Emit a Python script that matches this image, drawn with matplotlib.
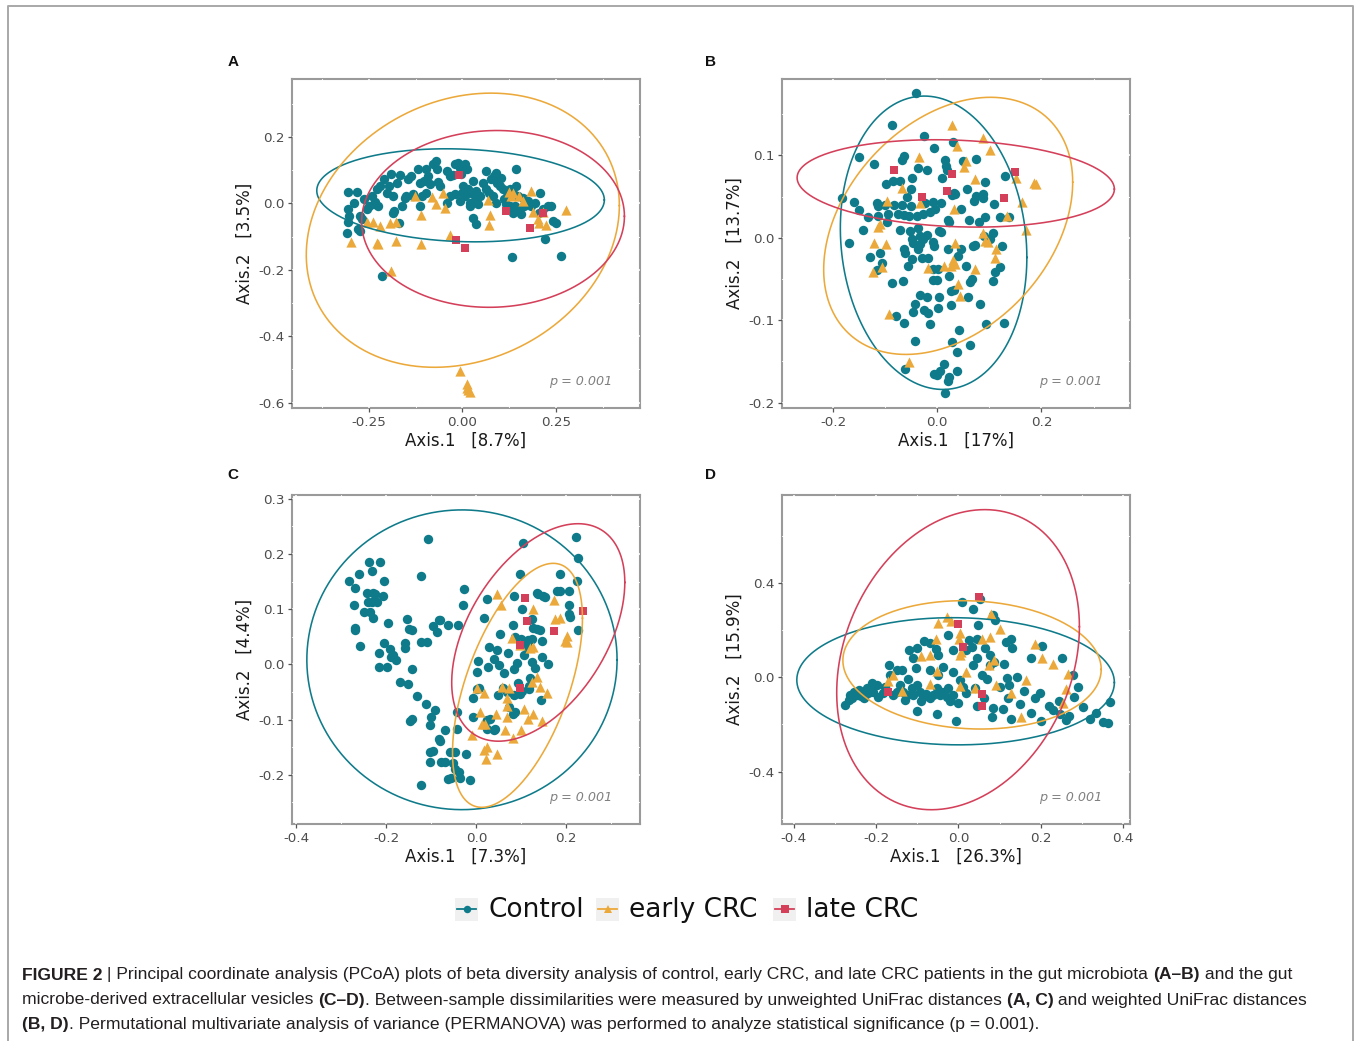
import numpy as np
import matplotlib
matplotlib.use("Agg")
import matplotlib.pyplot as plt
from matplotlib.lines import Line2D
from matplotlib.patches import Rectangle

# ---------------- data ----------------
groups = ["Control", "early CRC", "late CRC"]
colors = ["#0F7B8A", "#ECA93B", "#D4405A"]
markers = ["o", "^", "s"]

panel_letters = ["A", "B", "C", "D"]
x_titles = ["Axis.1   [8.7%]", "Axis.1   [17%]", "Axis.1   [7.3%]", "Axis.1   [26.3%]"]
y_titles = ["Axis.2   [3.5%]", "Axis.2   [13.7%]", "Axis.2   [4.4%]", "Axis.2   [15.9%]"]
p_label = "p = 0.001"

# Panel A
a_ctrl_x = [-0.304,-0.280,-0.289,-0.306,-0.301,-0.304,-0.308,-0.277,-0.274,-0.262,
            -0.250,-0.242,-0.233,-0.228,-0.219,-0.209,-0.202,-0.195,-0.190,-0.184,
            -0.182,-0.175,-0.166,-0.168,-0.153,-0.144,-0.138,-0.131,-0.118,-0.113,
            -0.109,-0.103,-0.096,-0.091,-0.087,-0.078,-0.071,-0.069,-0.065,-0.060,
            -0.042,-0.034,-0.025,-0.020,-0.012,-0.007,-0.003,0.006,0.011,0.002,
            0.000,0.006,0.015,0.019,0.028,0.033,0.037,0.046,0.055,0.064,
            0.064,0.071,0.077,0.083,0.089,0.092,0.099,0.104,0.108,0.112,
            0.115,0.119,0.126,0.135,0.142,0.143,0.148,0.152,0.157,0.163,
            0.168,0.174,0.183,0.192,0.204,0.207,0.214,0.227,0.236,0.241,
            0.250,0.219,0.037,0.028,0.042,-0.020,-0.034,-0.042,-0.096,-0.113,
            -0.131,-0.149,-0.162,-0.184,-0.224,-0.235,-0.255,-0.267,-0.274,0.133,
            0.263,-0.215,0.019,0.081,0.090,-0.007,0.028,0.126,0.135,0.161,
            0.139]
a_ctrl_y = [0.034,0.034,0.000,-0.016,-0.038,-0.056,-0.090,-0.078,-0.038,0.014,
            -0.008,0.022,0.004,0.042,0.052,0.072,0.032,0.052,0.087,0.022,
            -0.023,0.062,0.084,-0.058,0.017,0.074,0.082,0.027,0.102,0.062,
            0.022,0.067,0.102,0.082,0.057,0.117,0.127,0.102,0.064,0.052,
            0.097,0.082,0.084,0.117,0.122,0.107,0.087,0.117,0.102,0.052,
            0.032,0.022,0.042,0.002,0.027,0.007,0.037,0.022,0.062,0.097,
            0.042,0.032,0.072,0.082,0.090,0.060,0.052,0.077,0.042,0.012,
            -0.003,0.022,0.042,0.032,0.102,0.052,0.022,-0.018,-0.033,-0.008,
            -0.003,0.007,-0.008,0.002,-0.028,0.032,-0.018,-0.008,-0.008,-0.053,
            -0.058,-0.106,-0.063,-0.043,-0.003,0.027,0.022,0.002,0.032,-0.008,
            0.022,0.022,-0.008,-0.028,-0.008,-0.003,-0.016,-0.048,-0.083,-0.163,
            -0.158,-0.218,-0.008,0.022,0.002,0.007,0.067,-0.008,-0.028,0.017,
            -0.008]
a_early_x = [-0.296,-0.255,-0.237,-0.228,-0.226,-0.219,-0.193,-0.177,-0.177,-0.191,
             -0.127,-0.110,-0.110,-0.081,-0.071,-0.051,-0.046,-0.034,-0.007,0.011,
             0.013,0.019,0.068,0.073,0.071,0.124,0.130,0.135,0.152,0.161,
             0.183,0.188,0.201,0.205,0.214,0.223,0.276,0.015]
a_early_y = [-0.116,-0.056,-0.056,-0.118,-0.123,-0.068,-0.058,-0.056,-0.113,-0.203,
             0.022,-0.035,-0.123,0.019,-0.003,0.030,-0.013,-0.094,-0.506,-0.543,
             -0.556,-0.568,0.010,-0.035,-0.065,0.034,0.022,0.032,0.022,0.007,
             0.037,-0.025,-0.048,-0.060,-0.025,-0.066,-0.021,-0.563]
a_late_x = [-0.009,-0.016,0.007,0.115,0.179,0.214]
a_late_y = [0.084,-0.110,-0.134,-0.023,-0.075,-0.028]

# Panel B
b_ctrl_x = [-0.040,-0.087,-0.026,0.031,-0.006,-0.151,-0.064,-0.067,-0.121,-0.036,
            -0.020,0.015,0.017,0.019,0.050,0.075,0.131,0.010,-0.048,-0.084,
            -0.071,-0.098,0.091,-0.051,0.058,0.034,0.028,0.074,0.088,0.088,
            -0.183,-0.059,-0.160,-0.151,-0.116,-0.113,-0.100,-0.083,-0.068,-0.051,
            -0.024,-0.008,0.008,0.070,0.108,-0.132,-0.113,-0.094,-0.075,-0.064,
            -0.054,-0.038,-0.028,-0.014,-0.004,0.045,0.021,0.032,0.061,0.080,
            0.091,0.120,0.138,-0.142,-0.169,-0.052,-0.036,0.004,0.023,-0.049,
            -0.033,-0.020,-0.033,-0.008,-0.036,-0.046,-0.028,-0.006,0.107,0.101,
            0.072,0.045,0.124,-0.064,-0.129,-0.110,-0.107,-0.115,-0.062,-0.056,
            -0.049,-0.030,-0.017,-0.065,-0.087,-0.008,0.002,0.023,0.040,0.056,
            0.066,0.063,0.107,0.110,0.120,-0.008,0.000,0.027,0.032,-0.033,
            -0.020,0.004,0.059,-0.043,-0.046,-0.026,-0.017,0.001,0.027,0.082,
            -0.079,-0.064,-0.014,0.094,0.128,0.041,-0.043,0.029,0.063,0.038,
            -0.062,0.013,-0.006,0.000,0.005,0.023,0.037,0.021,0.015,0.069,
            0.089,0.008,0.021,-0.071,-0.097]
b_ctrl_y = [0.176,0.137,0.123,0.116,0.109,0.098,0.099,0.095,0.089,0.085,
            0.082,0.095,0.087,0.082,0.093,0.096,0.075,0.073,0.072,0.069,
            0.069,0.065,0.068,0.059,0.059,0.053,0.052,0.051,0.053,0.048,
            0.048,0.049,0.044,0.034,0.042,0.038,0.040,0.040,0.040,0.038,
            0.042,0.043,0.042,0.045,0.041,0.025,0.027,0.029,0.029,0.028,
            0.027,0.027,0.029,0.031,0.035,0.035,0.022,0.054,0.022,0.019,
            0.025,0.025,0.025,0.010,-0.006,0.008,0.012,0.008,0.019,-0.002,
            0.002,0.004,-0.007,-0.005,-0.013,-0.006,-0.001,-0.010,0.006,-0.002,
            -0.009,-0.013,-0.010,-0.014,-0.023,-0.019,-0.031,-0.039,-0.018,-0.034,
            -0.026,-0.025,-0.024,-0.052,-0.055,-0.038,-0.038,-0.046,-0.022,-0.034,
            -0.050,-0.054,-0.052,-0.041,-0.036,-0.051,-0.051,-0.064,-0.063,-0.069,
            -0.072,-0.072,-0.072,-0.080,-0.090,-0.088,-0.091,-0.085,-0.081,-0.080,
            -0.095,-0.103,-0.104,-0.104,-0.103,-0.112,-0.125,-0.126,-0.130,-0.138,
            -0.159,-0.153,-0.165,-0.167,-0.162,-0.169,-0.162,-0.174,-0.188,-0.010,
            0.002,0.007,-0.014,0.010,0.019]
b_early_x = [0.029,0.088,0.038,0.102,-0.035,0.056,0.052,0.073,0.151,0.185,
             0.190,-0.068,0.163,-0.097,-0.033,0.032,0.134,-0.110,-0.113,0.170,
             0.087,0.091,-0.121,-0.099,0.034,0.112,0.110,-0.107,-0.124,-0.017,
             0.013,0.031,0.034,0.073,0.040,0.043,-0.092,-0.054,0.026,0.098]
b_early_y = [0.137,0.121,0.111,0.107,0.098,0.093,0.086,0.071,0.073,0.066,
             0.065,0.061,0.044,0.045,0.042,0.035,0.026,0.017,0.013,0.010,
             0.006,-0.004,-0.006,-0.008,-0.006,-0.013,-0.025,-0.035,-0.042,-0.037,
             -0.034,-0.027,-0.032,-0.038,-0.056,-0.071,-0.093,-0.151,-0.034,-0.005]
b_late_x = [-0.083,0.029,0.149,0.019,-0.030,0.128]
b_late_y = [0.082,0.077,0.080,0.057,0.050,0.048]

# Panel C
c_ctrl_x = [-0.107,-0.284,-0.262,-0.239,-0.214,-0.205,-0.233,-0.273,-0.270,-0.244,
            -0.242,-0.229,-0.225,-0.207,-0.270,-0.270,-0.259,-0.250,-0.236,-0.229,
            -0.222,-0.233,-0.123,-0.027,-0.029,-0.084,-0.081,-0.041,-0.062,-0.096,
            -0.088,-0.122,-0.109,-0.155,-0.150,-0.142,-0.159,-0.159,-0.196,-0.205,
            -0.216,-0.216,-0.199,-0.192,-0.185,-0.179,-0.190,-0.170,-0.153,-0.142,
            -0.133,-0.112,-0.092,-0.147,-0.142,-0.102,-0.101,-0.069,-0.084,-0.081,
            -0.103,-0.096,-0.104,-0.079,-0.069,-0.059,-0.047,-0.051,-0.047,-0.038,
            -0.062,-0.057,-0.036,-0.014,-0.122,-0.023,-0.042,-0.042,-0.007,-0.007,
            0.005,0.001,0.023,0.023,0.039,0.041,0.030,0.049,0.069,0.073,
            0.082,0.086,0.097,0.101,0.060,0.001,0.003,0.025,0.039,0.051,
            0.062,0.084,0.070,0.053,0.045,0.029,0.016,0.023,0.084,0.097,
            0.103,0.082,0.086,0.099,0.102,0.123,0.112,0.113,0.114,0.123,
            0.127,0.136,0.142,0.145,0.147,0.160,0.123,0.130,0.119,0.118,
            0.118,0.093,0.084,0.143,0.134,0.138,0.149,0.153,0.179,0.186,
            0.186,0.205,0.207,0.207,0.208,0.222,0.227,0.223,0.225,0.106,
            0.091]
c_ctrl_y = [0.228,0.152,0.164,0.186,0.186,0.151,0.169,0.107,0.139,0.130,
            0.113,0.130,0.128,0.124,0.066,0.062,0.034,0.095,0.095,0.084,
            0.113,0.114,0.160,0.136,0.108,0.080,0.080,0.072,0.071,0.069,
            0.059,0.041,0.040,0.082,0.065,0.062,0.038,0.029,0.075,0.038,
            0.020,-0.004,-0.004,0.028,0.018,0.008,0.013,-0.031,-0.036,-0.008,
            -0.057,-0.072,-0.083,-0.102,-0.099,-0.110,-0.095,-0.119,-0.135,-0.139,
            -0.159,-0.157,-0.177,-0.177,-0.177,-0.158,-0.158,-0.178,-0.189,-0.194,
            -0.207,-0.206,-0.206,-0.209,-0.218,-0.162,-0.086,-0.117,-0.095,-0.061,
            -0.042,-0.045,-0.101,-0.116,-0.119,-0.116,-0.099,-0.055,-0.049,-0.077,
            -0.089,-0.087,-0.054,-0.048,-0.042,-0.013,0.006,-0.005,0.010,-0.001,
            -0.016,-0.008,0.021,0.056,0.027,0.032,0.084,0.118,0.124,0.163,
            0.220,0.071,0.050,0.047,0.101,0.083,0.038,0.032,0.044,0.047,
            0.066,0.065,0.062,0.042,0.014,0.000,0.004,-0.007,-0.025,-0.039,
            -0.045,-0.034,-0.055,-0.064,0.130,0.127,0.124,0.122,0.133,0.133,
            0.163,0.133,0.108,0.092,0.086,0.231,0.193,0.152,0.062,0.018,
            0.002]
c_early_x = [0.045,0.055,0.125,0.173,0.175,0.186,0.079,0.097,0.119,0.127,
             0.201,0.197,0.201,0.134,0.123,0.142,0.158,0.002,0.016,0.058,
             0.073,0.069,0.069,0.069,0.044,0.008,0.012,0.019,0.107,0.127,
             0.116,0.145,0.064,0.082,0.099,-0.010,0.016,0.023,0.021,0.045]
c_early_y = [0.127,0.108,0.100,0.116,0.083,0.084,0.048,0.035,0.030,0.032,
             0.052,0.042,0.041,-0.022,-0.031,-0.040,-0.051,-0.042,-0.051,-0.040,
             -0.043,-0.061,-0.075,-0.095,-0.089,-0.086,-0.108,-0.108,-0.080,-0.090,
             -0.098,-0.102,-0.119,-0.134,-0.119,-0.128,-0.155,-0.149,-0.172,-0.163]
c_late_x = [0.108,0.112,0.173,0.238,0.097,0.096]
c_late_y = [0.121,0.078,0.060,0.097,0.035,-0.042]

# Panel D
d_ctrl_x = [0.009,0.036,0.052,0.084,0.090,0.048,-0.025,-0.084,-0.069,-0.055,
            -0.102,-0.120,-0.110,-0.049,-0.013,0.026,0.032,0.044,0.019,0.044,
            0.064,0.076,0.086,0.110,0.115,0.128,0.131,0.177,0.204,0.251,
            0.278,0.290,0.280,0.302,0.320,0.335,0.352,0.363,0.369,0.268,
            0.262,0.244,0.221,0.201,0.197,0.177,0.185,0.149,0.128,0.120,
            0.108,0.100,0.118,0.123,0.142,0.082,0.056,0.044,0.040,0.019,
            0.000,-0.005,-0.013,-0.025,-0.029,-0.045,-0.052,-0.061,-0.069,-0.078,
            -0.086,-0.094,-0.100,-0.102,-0.110,-0.114,-0.126,-0.134,-0.142,-0.138,
            -0.149,-0.122,-0.150,-0.158,-0.168,-0.166,-0.179,-0.184,-0.195,-0.199,
            -0.211,-0.207,-0.219,-0.223,-0.231,-0.238,-0.243,-0.247,-0.255,-0.263,
            -0.259,-0.267,-0.276,0.069,0.076,0.036,0.003,-0.049,-0.069,-0.037,
            -0.013,-0.053,0.084,-0.103,0.248,-0.175,-0.090,-0.040,0.062,0.160,
            0.230,-0.130,-0.020,0.010,-0.230]
d_ctrl_y = [0.318,0.290,0.332,0.262,0.241,0.220,0.177,0.152,0.146,0.121,
            0.124,0.113,0.079,0.093,0.114,0.156,0.128,0.163,0.114,0.082,
            0.124,0.093,0.065,0.054,0.149,0.163,0.124,0.079,0.132,0.082,
            0.008,-0.041,-0.083,-0.125,-0.177,-0.153,-0.191,-0.196,-0.104,-0.163,
            -0.182,-0.101,-0.121,-0.186,-0.069,-0.153,-0.090,-0.115,-0.177,-0.090,
            -0.135,-0.041,-0.003,-0.034,0.001,-0.168,0.008,-0.121,-0.045,-0.069,
            -0.111,-0.186,-0.076,-0.048,-0.083,-0.076,-0.158,-0.076,-0.090,-0.073,
            -0.083,-0.062,-0.144,-0.034,-0.076,-0.048,-0.076,-0.065,-0.034,0.030,
            0.030,-0.006,-0.062,-0.076,0.051,0.011,-0.041,-0.069,-0.083,-0.034,
            -0.023,-0.062,-0.069,-0.048,-0.062,-0.079,-0.055,-0.076,-0.062,-0.076,
            -0.090,-0.097,-0.118,-0.006,0.051,0.051,-0.013,0.008,0.030,0.044,
            0.023,-0.048,-0.130,0.039,-0.158,-0.055,-0.100,-0.062,-0.090,-0.060,
            -0.140,-0.095,-0.100,-0.040,-0.090]
d_early_x = [-0.029,-0.019,-0.049,0.080,0.100,0.076,0.058,0.003,0.002,-0.055,
             -0.092,-0.068,0.003,0.007,0.074,0.086,0.187,0.204,0.231,0.266,
             0.262,0.165,0.128,0.153,0.092,0.040,0.019,0.003,-0.069,-0.052,
             -0.138,-0.160,-0.172,0.254]
d_early_y = [0.255,0.237,0.231,0.269,0.206,0.170,0.163,0.189,0.163,0.163,
             0.090,0.093,0.093,0.107,0.051,0.072,0.142,0.079,0.054,0.015,
             -0.051,-0.013,-0.066,-0.168,-0.034,-0.045,0.023,-0.037,-0.027,0.025,
             -0.059,0.011,-0.017,-0.111]
d_late_x = [0.050,0.000,0.010,-0.171,0.056,0.056]
d_late_y = [0.339,0.227,0.128,-0.065,-0.073,-0.121]

# Ellipses (order: Control, early CRC, late CRC): centre, half extents, correlation
ell_a_cx = [-0.005, 0.001, 0.0815]
ell_a_cy = [0.024, -0.081, -0.047]
ell_a_sx = [0.383, 0.417, 0.350]
ell_a_sy = [0.140, 0.4125, 0.266]
ell_a_r = [-0.10, 0.18, 0.03]

ell_b_cx = [-0.007, 0.021, 0.0355]
ell_b_cy = [-0.006, 0.0145, 0.066]
ell_b_sx = [0.179, 0.239, 0.3045]
ell_b_sy = [0.178, 0.156, 0.053]
ell_b_r = [-0.10, 0.34, -0.13]

ell_c_cx = [-0.032, 0.0915, 0.1377]
ell_c_cy = [0.0085, -0.0378, 0.058]
ell_c_sx = [0.345, 0.1445, 0.1925]
ell_c_sy = [0.2715, 0.221, 0.197]
ell_c_r = [0.0, 0.55, 0.46]

ell_d_cx = [-0.007, 0.033, -0.001]
ell_d_cy = [-0.0175, 0.052, 0.074]
ell_d_sx = [0.386, 0.314, 0.295]
ell_d_sy = [0.2695, 0.272, 0.636]
ell_d_r = [-0.02, -0.07, 0.22]

# axis ticks
a_xticks = [-0.25, 0.0, 0.25]
a_yticks = [-0.6, -0.4, -0.2, 0.0, 0.2]
b_xticks = [-0.2, 0.0, 0.2]
b_yticks = [-0.2, -0.1, 0.0, 0.1]
c_xticks = [-0.4, -0.2, 0.0, 0.2]
c_yticks = [-0.2, -0.1, 0.0, 0.1, 0.2, 0.3]
d_xticks = [-0.4, -0.2, 0.0, 0.2, 0.4]
d_yticks = [-0.4, 0.0, 0.4]

# ---------------- figure ----------------
W, H = 1354, 1041
fig = plt.figure(figsize=(W / 100, H / 100), dpi=100)
fig.patch.set_facecolor("white")

def fx(px):
    return px / W

def fy(py):
    return 1 - py / H

def ellipse_xy(cx, cy, sx, sy, r, n=300):
    t = np.linspace(0, 2 * np.pi, n)
    x = cx + sx * np.cos(t)
    y = cy + sy * (r * np.cos(t) + np.sqrt(1 - r * r) * np.sin(t))
    return x, y

panels = [
    dict(box=(292, 79, 640, 408), xlim=(-0.454, 0.473), ylim=(-0.616, 0.374),
         xt=a_xticks, yt=a_yticks, xfmt="{:.2f}", yfmt="{:.1f}",
         pts=[(a_ctrl_x, a_ctrl_y), (a_early_x, a_early_y), (a_late_x, a_late_y)],
         ell=(ell_a_cx, ell_a_cy, ell_a_sx, ell_a_sy, ell_a_r), letter_xy=(233, 62)),
    dict(box=(782, 79, 1130, 408), xlim=(-0.298, 0.370), ylim=(-0.2065, 0.1927),
         xt=b_xticks, yt=b_yticks, xfmt="{:.1f}", yfmt="{:.1f}",
         pts=[(b_ctrl_x, b_ctrl_y), (b_early_x, b_early_y), (b_late_x, b_late_y)],
         ell=(ell_b_cx, ell_b_cy, ell_b_sx, ell_b_sy, ell_b_r), letter_xy=(710, 62)),
    dict(box=(292, 495, 640, 824), xlim=(-0.410, 0.364), ylim=(-0.289, 0.307),
         xt=c_xticks, yt=c_yticks, xfmt="{:.1f}", yfmt="{:.1f}",
         pts=[(c_ctrl_x, c_ctrl_y), (c_early_x, c_early_y), (c_late_x, c_late_y)],
         ell=(ell_c_cx, ell_c_cy, ell_c_sx, ell_c_sy, ell_c_r), letter_xy=(233, 475)),
    dict(box=(782, 495, 1130, 824), xlim=(-0.429, 0.417), ylim=(-0.6225, 0.772),
         xt=d_xticks, yt=d_yticks, xfmt="{:.1f}", yfmt="{:.1f}",
         pts=[(d_ctrl_x, d_ctrl_y), (d_early_x, d_early_y), (d_late_x, d_late_y)],
         ell=(ell_d_cx, ell_d_cy, ell_d_sx, ell_d_sy, ell_d_r), letter_xy=(710, 475)),
]

marker_sizes = [46, 54, 34]
tick_grey = "#4D4D4D"
border_grey = "#9A9A9A"

for i, p in enumerate(panels):
    l, t, r, b = p["box"]
    ax = fig.add_axes([fx(l), fy(b), (r - l) / W, (b - t) / H])
    ax.set_facecolor("white")
    for s in ax.spines.values():
        s.set_color(border_grey)
        s.set_linewidth(1.5)
    ax.set_axisbelow(False)
    xt, yt = p["xt"], p["yt"]
    ax.set_xticks(xt)
    ax.set_yticks(yt)
    ax.set_xticklabels([p["xfmt"].format(v).replace("-0.00", "0.00") for v in xt])
    ax.set_yticklabels([p["yfmt"].format(v) for v in yt])
    dx = xt[1] - xt[0]
    dy = yt[1] - yt[0]
    xminor = np.arange(xt[0] - 3 * dx / 2, xt[-1] + 2 * dx, dx)
    yminor = np.arange(yt[0] - 3 * dy / 2, yt[-1] + 2 * dy, dy)
    ax.set_xticks(xminor, minor=True)
    ax.set_yticks(yminor, minor=True)
    ax.tick_params(which="major", length=3, width=0.9, color="#555555",
                   labelsize=9.7, labelcolor=tick_grey, pad=2.5)
    ax.tick_params(which="minor", length=0)
    ax.grid(True, which="major", color="white", linewidth=1.1)
    ax.grid(True, which="minor", color="white", linewidth=0.6)
    ax.set_xlim(*p["xlim"])
    ax.set_ylim(*p["ylim"])

    for g in range(3):
        xs, ys = p["pts"][g]
        ax.scatter(xs, ys, s=marker_sizes[g], marker=markers[g], color=colors[g],
                   linewidths=0, zorder=4 + g)
    cxs, cys, sxs, sys_, rs = p["ell"]
    for g in range(3):
        ex, ey = ellipse_xy(cxs[g], cys[g], sxs[g], sys_[g], rs[g])
        ax.plot(ex, ey, color=colors[g], linewidth=1.15, zorder=8)

    ax.text(0.92, 0.082, p_label, transform=ax.transAxes, ha="right", va="center",
            fontsize=9.2, style="italic", color="#808080")

    ax.set_xlabel(x_titles[i], fontsize=12, color="#1A1A1A", va="center")
    ax.xaxis.set_label_coords(0.5, -33 / (b - t))
    ax.set_ylabel(y_titles[i], fontsize=12, color="#1A1A1A", va="center")
    ax.yaxis.set_label_coords(-47 / (r - l), 0.5)

    lx, ly = p["letter_xy"]
    fig.text(fx(lx), fy(ly), panel_letters[i], fontsize=11, fontweight="bold",
             family="Liberation Sans", ha="center", va="center", color="#111111")

# ---------------- legend ----------------
leg_ax = fig.add_axes([0, 0, 1, 1], facecolor="none")
leg_ax.set_xlim(0, W)
leg_ax.set_ylim(H, 0)
leg_ax.axis("off")
key_left = [455, 596, 773]
text_left = [488, 629, 806]
ky = 909
for g in range(3):
    kx = key_left[g]
    leg_ax.add_patch(Rectangle((kx, ky - 11.5), 23, 23, facecolor="#F0F0F0",
                               edgecolor="none"))
    leg_ax.add_line(Line2D([kx + 2, kx + 21], [ky, ky], color=colors[g], linewidth=1.3))
    leg_ax.add_line(Line2D([kx + 11.5], [ky], marker=markers[g], color=colors[g],
                           markersize=5.4, markeredgewidth=0, linestyle="none"))
    leg_ax.text(text_left[g], ky + 1, groups[g], fontsize=19, ha="left", va="center",
                color="#111111")

# outer frame
leg_ax.add_line(Line2D([8, 8, 1352.5, 1352.5], [H + 5, 6, 6, H + 5], color="#A8A8A8",
                       linewidth=1.4))

# ---------------- caption ----------------
caption_lines = [
    [("FIGURE 2", True), (" | Principal coordinate analysis (PCoA) plots of beta diversity analysis of control, early CRC, and late CRC patients in the gut microbiota ", False), ("(A\u2013B)", True), (" and the gut", False)],
    [("microbe-derived extracellular vesicles ", False), ("(C\u2013D)", True), (". Between-sample dissimilarities were measured by unweighted UniFrac distances ", False), ("(A, C)", True), (" and weighted UniFrac distances", False)],
    [("(B, D)", True), (". Permutational multivariate analysis of variance (PERMANOVA) was performed to analyze statistical significance (p = 0.001).", False)],
]
caption_y = [975, 1000, 1025]
cap_x0 = 22
cap_target_width = 1266
renderer = fig.canvas.get_renderer()

def piece_width(txt, bold, size):
    tt = fig.text(0, 0, txt + "|", fontsize=size, fontweight="bold" if bold else "normal",
                  family="Liberation Sans")
    tb = fig.text(0, 0, "|", fontsize=size, fontweight="bold" if bold else "normal",
                  family="Liberation Sans")
    w = tt.get_window_extent(renderer).width - tb.get_window_extent(renderer).width
    tt.remove()
    tb.remove()
    return w

base = 11.0
w1 = sum(piece_width(tx, bd, base) for tx, bd in caption_lines[0])
cap_size = base * cap_target_width / w1

for line, yy in zip(caption_lines, caption_y):
    x = cap_x0
    for tx, bd in line:
        fig.text(fx(x), fy(yy), tx, fontsize=cap_size,
                 fontweight="bold" if bd else "normal", family="Liberation Sans",
                 ha="left", va="center", color="#231F20")
        x += piece_width(tx, bd, cap_size)

fig.savefig("out.png", dpi=100, facecolor="white")
